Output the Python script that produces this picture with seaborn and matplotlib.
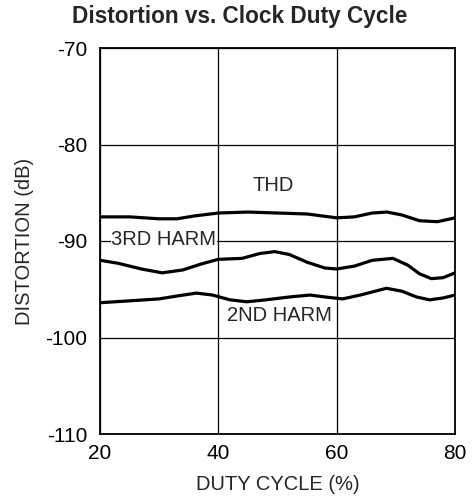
import numpy as np
import pandas as pd
import matplotlib
matplotlib.use("Agg")
import matplotlib.pyplot as plt
import seaborn as sns

# Values
thd_x = [20, 25, 30, 33, 36, 40, 45, 50, 55, 60, 63, 66, 68.5, 71, 74, 77, 80]
thd_y = [-87.5, -87.5, -87.7, -87.7, -87.4, -87.1, -87.0, -87.1, -87.2, -87.6,
         -87.5, -87.1, -87.0, -87.3, -87.9, -88.0, -87.6]

h3_x = [20, 23, 27, 30.5, 34, 37, 40, 44, 47, 49.5, 52, 55, 58, 60, 63, 66, 69.5,
        72, 74, 76, 78, 80]
h3_y = [-92.0, -92.3, -92.9, -93.3, -93.0, -92.4, -91.9, -91.8, -91.3, -91.1,
        -91.4, -92.2, -92.8, -92.9, -92.6, -92.0, -91.8, -92.5, -93.4, -93.9,
        -93.8, -93.3]

h2_x = [20, 25, 30, 33, 36.3, 39, 42, 44.8, 48, 52, 55.5, 58, 61, 64, 68.4, 71,
        73.5, 75.7, 78, 80]
h2_y = [-96.4, -96.2, -96.0, -95.7, -95.4, -95.6, -96.1, -96.3, -96.1, -95.8,
        -95.6, -95.8, -96.0, -95.6, -94.9, -95.2, -95.8, -96.1, -95.9, -95.6]

x_ticks = [20, 40, 60, 80]
y_ticks = [-110, -100, -90, -80, -70]

sns.set_style("white")
plt.rcParams["font.family"] = ["Liberation Sans", "DejaVu Sans"]
plt.rcParams["axes.unicode_minus"] = False

fig = plt.figure(figsize=(4.77, 5.0), dpi=100)
ax = fig.add_axes([0.2096, 0.132, 0.7444, 0.772])

for xs, ys in [(thd_x, thd_y), (h3_x, h3_y), (h2_x, h2_y)]:
    df = pd.DataFrame({"x": xs, "y": ys})
    sns.lineplot(data=df, x="x", y="y", ax=ax, color="black", linewidth=2.3,
                 estimator=None, sort=True)

ax.set_xlim(20, 80)
ax.set_ylim(-110, -70)
ax.set_xticks(x_ticks)
ax.set_yticks(y_ticks)
ax.grid(True, color="black", linewidth=0.9)
ax.set_axisbelow(True)
for s in ax.spines.values():
    s.set_color("black")
    s.set_linewidth(1.3)
ax.tick_params(axis="x", length=0, labelsize=15, pad=7, colors="black")
ax.tick_params(axis="y", length=0, labelsize=15, pad=9, colors="black")

ax.set_xlabel("DUTY CYCLE (%)", fontsize=14.5, labelpad=9)
ax.set_ylabel("DISTORTION (dB)", fontsize=14.5, labelpad=8)
fig.text(0.502, 0.968, "Distortion vs. Clock Duty Cycle", fontsize=16.3,
         fontweight="bold", ha="center", va="center")

ax.text(49.2, -84.3, "THD", fontsize=14.5, ha="center", va="center")
ax.text(30.8, -89.8, "3RD HARM", fontsize=14.5, ha="center", va="center",
        bbox=dict(facecolor="white", edgecolor="none", pad=0.3))
ax.text(50.4, -97.7, "2ND HARM", fontsize=14.5, ha="center", va="center",
        bbox=dict(facecolor="white", edgecolor="none", pad=0.3))

fig.savefig("out.png", dpi=100)
